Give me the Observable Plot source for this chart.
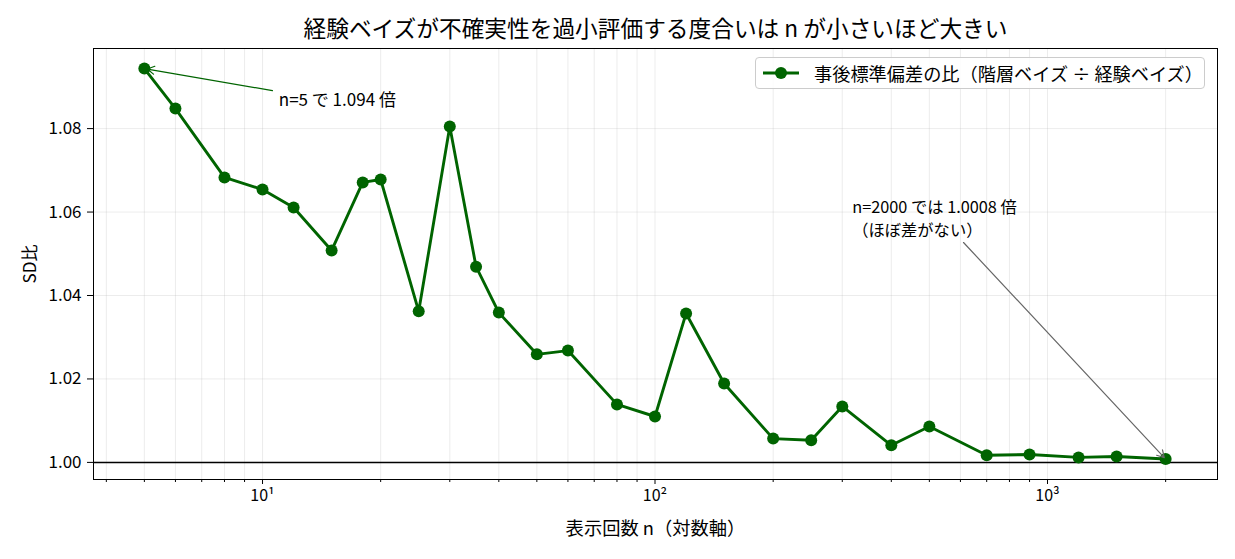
<!DOCTYPE html>
<html>
<head>
<meta charset="utf-8">
<script src="https://cdn.jsdelivr.net/npm/d3@7"></script>
<script src="https://cdn.jsdelivr.net/npm/@observablehq/plot@0.6"></script>
<style>
  html, body { margin: 0; padding: 0; background: white; }
  body { font-family: "Noto Sans CJK JP", "Noto Sans", sans-serif; }
  #wrap { position: relative; width: 1235px; height: 559px; }
  #title { height: 45px; width: 1235px; text-align: center; font-size: 22.7px; line-height: 23px; box-sizing: border-box; padding-left: 76px; padding-top: 16px; color: #000; white-space: nowrap; }
  #legend { position: absolute; left: 755px; top: 57px; width: 450px; height: 32px; border: 1px solid #cccccc; border-radius: 4px; background: rgba(255,255,255,0.85); box-sizing: border-box; display: flex; align-items: center; font-size: 18.2px; color: #000; white-space: nowrap; }
  #legend svg { margin-left: 6px; margin-right: 14px; }
</style>
</head>
<body>
<div id="wrap">
  <div id="title">経験ベイズが不確実性を過小評価する度合いは n が小さいほど大きい</div>
  <div id="chart"></div>
  <div id="legend"><svg width="38" height="14"><line x1="1" x2="37" y1="7" y2="7" stroke="#006400" stroke-width="2.8"/><circle cx="19" cy="7" r="6" fill="#006400"/></svg><span>事後標準偏差の比（階層ベイズ ÷ 経験ベイズ）</span></div>
</div>
<script>
const ns = [5,6,8,10,12,15,18,20,25,30,35,40,50,60,80,100,120,150,200,250,300,400,500,700,900,1200,1500,2000];
const ratios = [1.0944,1.0848,1.0683,1.0654,1.0611,1.0508,1.0671,1.0678,1.0362,1.0805,1.0469,1.0359,1.0259,1.0268,1.0139,1.0110,1.0357,1.0189,1.0057,1.0053,1.0134,1.0041,1.0086,1.0017,1.0019,1.0012,1.0014,1.0008];
const majorTicks = [10, 100, 1000];
const majorLabels = ["10¹", "10²", "10³"];
const minorTicks = [4,5,6,7,8,9,20,30,40,50,60,70,80,90,200,300,400,500,600,700,800,900,2000];
const yTicks = [1.00, 1.02, 1.04, 1.06, 1.08];
const annotation1 = {text: "n=5 で 1.094 倍", tx: 11.0, ty: 1.0867, ax: 10.6, ay: 1.0891, px: 5, py: 1.0944};
const annotation2 = {text: "n=2000 では 1.0008 倍\n（ほぼ差がない）", tx: 318, ty: 1.0587, ax: 611, ay: 1.0527, px: 2000, py: 1.0008};

const data = ns.map((n, i) => ({n, r: ratios[i]}));
const green = "#006400";

const plot = Plot.plot({
  width: 1235,
  height: 514,
  marginTop: 3,
  marginBottom: 80,
  marginLeft: 93,
  marginRight: 18,
  style: {fontFamily: "'Noto Sans CJK JP', 'Noto Sans', sans-serif", fontSize: "17px", color: "black", background: "white", overflow: "visible"},
  x: {type: "log", domain: [3.71, 2711]},
  y: {domain: [0.9959, 1.0992]},
  marks: [
    Plot.ruleX([...majorTicks, ...minorTicks], {stroke: "#b0b0b0", strokeOpacity: 0.3, strokeWidth: 0.8}),
    Plot.ruleY(yTicks, {stroke: "#b0b0b0", strokeOpacity: 0.3, strokeWidth: 0.8}),
    Plot.ruleY([1], {stroke: "black", strokeWidth: 1.5}),
    Plot.axisX({ticks: minorTicks, tickSize: 3, tickFormat: () => "", label: null}),
    Plot.axisX({ticks: majorTicks, tickSize: 5, tickPadding: 5, tickFormat: d => majorLabels[majorTicks.indexOf(d)], fontSize: 16, label: null}),
    Plot.axisX({ticks: [], tickSize: 0, fontSize: 18.3, label: "表示回数 n（対数軸）", labelAnchor: "center", labelArrow: "none", labelOffset: 55}),
    Plot.axisY({ticks: yTicks, tickSize: 6, tickPadding: 6, tickFormat: d3.format(".2f"), fontSize: 17, label: "SD比", labelAnchor: "center", labelArrow: "none", labelOffset: 70}),
    Plot.line(data, {x: "n", y: "r", stroke: green, strokeWidth: 2.9}),
    Plot.dot(data, {x: "n", y: "r", fill: green, r: 6}),
    Plot.arrow([annotation1], {x1: "ax", y1: "ay", x2: "px", y2: "py", stroke: green, strokeWidth: 1.2, headLength: 10, insetEnd: 3}),
    Plot.text([annotation1], {x: "tx", y: "ty", text: "text", textAnchor: "start", fontSize: 17, fill: "black"}),
    Plot.arrow([annotation2], {x1: "ax", y1: "ay", x2: "px", y2: "py", stroke: "#666666", strokeWidth: 1.2, headLength: 10, insetEnd: 2}),
    Plot.text([annotation2], {x: "tx", y: "ty", text: "text", textAnchor: "start", lineAnchor: "middle", lineHeight: 1.4, fontSize: 16.3, fill: "black"}),
    Plot.frame({stroke: "black", strokeWidth: 1})
  ]
});
document.getElementById("chart").appendChild(plot);
</script>
</body>
</html>
